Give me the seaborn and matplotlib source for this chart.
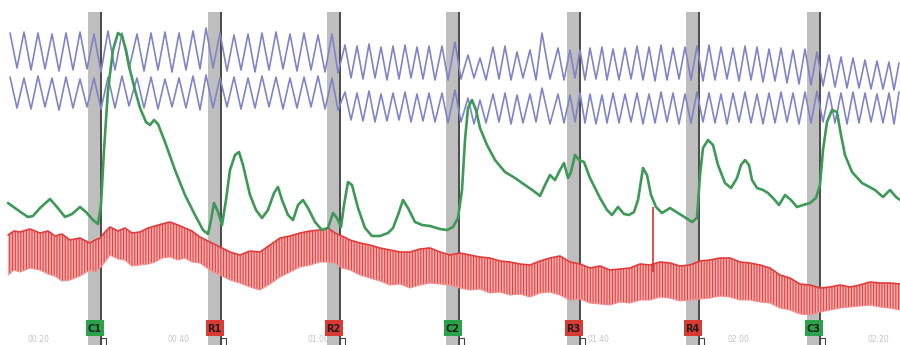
import matplotlib

matplotlib.use("Agg")
import matplotlib.pyplot as plt
import numpy as np
import seaborn as sns
from matplotlib.patches import Rectangle

# Question markers (time of question onset / answer)
question_labels = ["C1", "R1", "R2", "C2", "R3", "R4", "C3"]
question_start = [88, 208, 327, 446, 567, 686, 807]
question_end = [101, 221, 340, 459, 580, 699, 820]

# Time stamps along the bottom (the one under C2 is hidden by the band)
tick_pos = [38, 178, 318, 598, 738, 878]
tick_labels = ["00:20", "00:40", "01:00", "01:40", "02:00", "02:20"]

# Respiration: times of breath peaks and troughs
breath_peak_t = [
    10, 24, 38, 52, 66, 80, 94, 108, 122, 137, 151, 165, 179, 193, 206, 220,
    234, 248, 262, 276, 290, 304, 318, 332,
    345, 357, 369, 381, 393, 405, 417, 429,
    442, 455, 468, 480, 493, 505, 517, 530, 542, 558, 570, 580, 590, 602, 613,
    625, 637, 649, 661, 673, 685, 697, 709, 721, 733, 745, 757, 769, 781, 793,
    805, 817, 829, 841, 853, 865, 877, 889, 899,
]
breath_trough_t = [
    17, 31, 45, 59, 73, 87, 101, 115, 129, 144, 158, 172, 186, 200, 213, 227,
    241, 255, 269, 283, 297, 311, 325, 338,
    351, 363, 375, 387, 399, 411, 423, 435,
    448, 461, 474, 486, 499, 511, 523, 536, 550, 564, 575, 585, 596, 607,
    619, 631, 643, 655, 667, 679, 691, 703, 715, 727, 739, 751, 763, 775, 787,
    799, 811, 823, 835, 847, 859, 871, 883, 894,
]
# thoracic (upper) trace
upper_peak = [
    33, 32, 33, 34, 33, 32, 34, 31, 33, 34, 33, 32, 33, 31, 28, 33,
    35, 34, 33, 32, 34, 33, 35, 34,
    45, 46, 44, 47, 46, 45, 47, 46,
    46, 42, 55, 58, 47, 46, 52, 50, 33, 48, 50, 50, 48, 47, 49,
    48, 46, 47, 45, 48, 47, 46, 45, 47, 48, 46, 47, 49, 48, 50,
    49, 52, 55, 57, 58, 60, 61, 62, 63,
]
upper_trough = [
    68, 70, 69, 71, 70, 69, 72, 70, 69, 71, 70, 72, 70, 69, 68, 71,
    70, 72, 70, 69, 71, 70, 72, 73,
    78, 79, 78, 80, 79, 78, 79, 80,
    80, 79, 78, 80, 79, 80, 78, 80, 79, 80, 78, 80, 79, 80,
    80, 79, 80, 81, 80, 79, 80, 81, 80, 79, 81, 80, 82, 81, 83,
    84, 85, 86, 87, 88, 88, 89, 89, 90,
]
# abdominal (lower) trace
lower_peak = [
    77, 78, 76, 78, 77, 79, 78, 77, 76, 78, 77, 79, 78, 76, 75, 78,
    77, 78, 76, 77, 78, 77, 76, 78,
    92, 93, 91, 94, 93, 92, 94, 93,
    93, 90, 98, 100, 94, 93, 95, 94, 88, 94, 95, 93, 94, 95, 93,
    94, 93, 94, 92, 93, 94, 92, 93, 94, 93, 92, 94, 93, 92, 93,
    92, 91, 92, 93, 92, 93, 94, 93, 92,
]
lower_trough = [
    108, 109, 107, 110, 108, 107, 109, 108, 106, 108, 109, 107, 108, 110, 108, 107,
    109, 108, 107, 109, 108, 107, 109, 110,
    120, 121, 122, 121, 120, 122, 121, 122,
    123, 122, 124, 123, 122, 124, 123, 122, 124, 123, 122, 123, 124, 123,
    123, 122, 124, 123, 122, 124, 123, 122, 123, 124, 122, 123, 124, 123, 122,
    124, 123, 122, 123, 124, 123, 122, 123, 124,
]

# Electrodermal activity
eda_t = [
    8, 15, 22, 28, 33, 40, 50, 57, 65, 72, 80, 86, 93, 98, 101, 104, 108, 113,
    118, 122, 126, 130, 135, 140, 146, 150, 154, 158, 165, 175, 185, 195, 203,
    208, 211, 214, 218, 222, 226, 230, 235, 239, 243, 250, 256, 262, 268, 274,
    278, 282, 288, 293, 298, 303, 308, 315, 322, 328, 333, 337, 341, 344, 348,
    352, 358, 365, 372, 380, 388, 393, 398, 403, 408, 415, 422, 430, 440, 447,
    453, 458, 462, 465, 468, 472, 476, 480, 487, 495, 505, 515, 525, 535, 540,
    545, 550, 555, 560, 564, 568, 571, 575, 579, 584, 590, 600, 607, 612, 618,
    624, 629, 634, 638, 643, 647, 651, 656, 662, 670, 678, 686, 692, 697, 700,
    703, 708, 713, 718, 725, 731, 737, 741, 745, 749, 752, 757, 763, 768, 773,
    779, 785, 791, 797, 803, 810, 816, 820, 823, 827, 832, 837, 841, 845, 852,
    862, 875, 883, 890, 896, 900,
]
eda_y = [
    203, 208, 213, 217, 216, 208, 199, 207, 217, 214, 207, 212, 220, 224, 205,
    150, 90, 50, 33, 36, 50, 70, 90, 108, 122, 125, 120, 124, 142, 170, 195,
    215, 230, 234, 220, 203, 212, 225, 200, 170, 155, 152, 165, 195, 210, 218,
    210, 193, 187, 200, 215, 220, 205, 200, 208, 222, 230, 228, 213, 218, 227,
    205, 182, 185, 208, 228, 236, 236, 233, 228, 215, 200, 208, 222, 225, 226,
    229, 230, 227, 218, 190, 140, 108, 100, 110, 128, 145, 160, 172, 178, 185,
    192, 196, 185, 175, 180, 170, 163, 178, 172, 155, 160, 162, 178, 198, 210,
    215, 207, 214, 215, 212, 200, 168, 175, 195, 207, 213, 208, 213, 218, 222,
    218, 175, 148, 140, 145, 165, 183, 188, 178, 165, 160, 165, 180, 188, 190,
    193, 198, 205, 195, 200, 207, 205, 203, 198, 185, 150, 122, 110, 112, 135,
    155, 172, 183, 190, 197, 190, 197, 200,
]
# movement artefact on the cardio channel
spike_t = [653]
spike_top = [207]
spike_bottom = [272]

# Cardio (blood pressure) band: upper and lower envelope
cardio_t = [
    8, 14, 20, 30, 40, 48, 55, 62, 70, 80, 90, 95, 100, 105, 110, 118, 125,
    132, 140, 148, 155, 162, 170, 178, 185, 192, 200, 210, 220, 230, 240, 250,
    260, 270, 280, 290, 300, 310, 320, 328, 335, 342, 350, 360, 370, 380, 390,
    400, 410, 420, 430, 440, 450, 460, 470, 480, 490, 500, 510, 520, 530, 540,
    550, 560, 570, 580, 590, 600, 610, 620, 630, 640, 650, 660, 670, 680, 690,
    700, 710, 720, 730, 740, 750, 760, 770, 780, 790, 800, 810, 820, 830, 840,
    850, 860, 870, 880, 890, 900,
]
cardio_top = [
    235, 231, 232, 229, 233, 231, 236, 234, 240, 238, 243, 240, 238, 232, 227,
    231, 228, 233, 232, 228, 226, 224, 222, 225, 228, 231, 237, 242, 247, 252,
    255, 251, 252, 245, 238, 236, 233, 231, 230, 228, 233, 236, 240, 243, 245,
    248, 250, 252, 252, 249, 248, 252, 255, 253, 255, 257, 258, 261, 262, 264,
    265, 261, 258, 256, 262, 264, 268, 266, 270, 269, 268, 264, 265, 262, 263,
    266, 265, 261, 260, 258, 258, 262, 263, 265, 268, 275, 278, 284, 285, 288,
    287, 285, 287, 285, 282, 283, 283, 284,
]
cardio_bottom = [
    275, 270, 272, 268, 270, 274, 276, 281, 280, 276, 270, 272, 268, 262, 255,
    259, 260, 266, 265, 264, 262, 258, 257, 260, 258, 262, 263, 270, 275, 280,
    283, 287, 290, 284, 277, 272, 267, 265, 262, 262, 263, 268, 270, 275, 278,
    281, 285, 284, 288, 285, 283, 284, 285, 288, 290, 289, 293, 292, 295, 294,
    297, 293, 292, 295, 300, 299, 303, 304, 305, 302, 303, 300, 300, 297, 298,
    301, 300, 299, 298, 296, 297, 300, 300, 302, 303, 308, 310, 314, 315, 312,
    310, 308, 307, 306, 305, 307, 308, 310,
]


def interleave(peaks, troughs):
    """Merge peak and trough samples into one trace"""
    out = np.empty(len(peaks) + len(troughs))
    out[0::2] = peaks
    out[1::2] = troughs
    return out


def main():
    sns.set_style("white")
    plt.rcParams["font.family"] = ["DejaVu Sans"]
    plt.rcParams["hatch.linewidth"] = 0.8

    fig = plt.figure(figsize=(9, 3.45), dpi=100)
    ax = fig.add_axes([0, 0, 1, 1])

    # faint time stamps, partly hidden under the bands
    for x, s in zip(tick_pos, tick_labels):
        ax.text(x, 344.5, s, ha="center", va="bottom", fontsize=5.5,
                color="#c4c4c4", zorder=0.5)

    # question bands
    for lab, x0, x1 in zip(question_labels, question_start, question_end):
        ax.axvspan(x0, x1, ymin=0, ymax=1 - 12 / 345, color="#bebebe",
                   zorder=1, lw=0)
        ax.vlines(x1, 12, 345, color="#4a4a4a", lw=1.4, zorder=1.5)
        fc = "#2aa24a" if lab.startswith("C") else "#d93a33"
        xc = (x0 + x1) / 2
        ax.add_patch(Rectangle((xc - 9, 320), 18, 16, fc=fc, ec="none", zorder=5))
        ax.text(xc, 328.5, lab, ha="center", va="center", fontsize=7,
                fontweight="bold", color="#1e1e1e", zorder=6)
        ax.add_patch(Rectangle((x1, 337.5), 5, 10, fc="white", ec="#444444",
                               lw=0.8, zorder=6))

    # respiration
    bt = interleave(breath_peak_t, breath_trough_t)
    sns.lineplot(x=bt, y=interleave(upper_peak, upper_trough), ax=ax,
                 color="#7f84c8", lw=1.2, estimator=None, sort=False, zorder=3)
    sns.lineplot(x=bt, y=interleave(lower_peak, lower_trough), ax=ax,
                 color="#7f84c8", lw=1.2, estimator=None, sort=False, zorder=3)

    # cardio band
    ax.fill_between(cardio_t, cardio_top, cardio_bottom, facecolor="#f5aeae",
                    edgecolor="#e2403f", hatch="||||||", linewidth=0, zorder=2)
    sns.lineplot(x=cardio_t, y=cardio_top, ax=ax, color="#e23b3b", lw=1.2,
                 estimator=None, sort=False, zorder=3)
    sns.lineplot(x=cardio_t, y=cardio_bottom, ax=ax, color="#f19090", lw=0.8,
                 estimator=None, sort=False, zorder=3)
    ax.vlines(spike_t, spike_top, spike_bottom, color="#e03030", lw=1.2, zorder=3)

    # electrodermal
    sns.lineplot(x=eda_t, y=eda_y, ax=ax, color="#3c9a56", lw=1.9,
                 estimator=None, sort=False, zorder=4)

    ax.set_xlim(0, 900)
    ax.set_ylim(345, 0)
    ax.axis("off")

    fig.savefig("out.png", dpi=100)


if __name__ == "__main__":
    main()
